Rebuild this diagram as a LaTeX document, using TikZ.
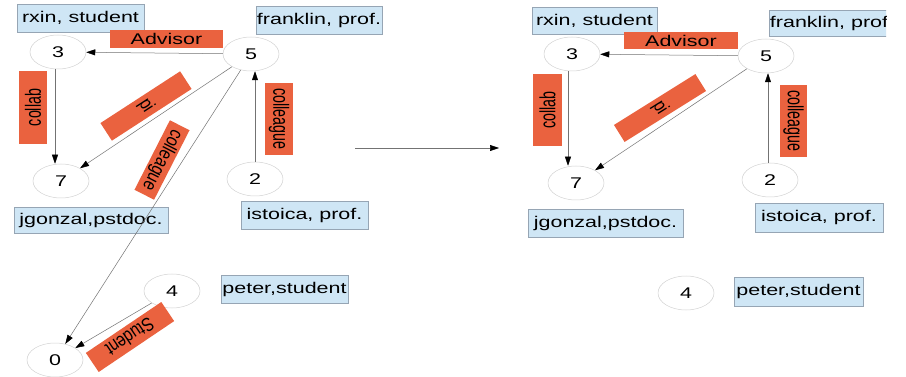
\documentclass[tikz,border=0pt]{standalone}
\usepackage{fontspec}
\setmainfont{Liberation Sans}
\usetikzlibrary{shapes.geometric,arrows.meta,calc}
\definecolor{labred}{RGB}{234,98,63}
\definecolor{infoblue}{RGB}{207,230,245}
\definecolor{infoedge}{RGB}{150,165,180}
\newcommand{\hs}[1]{\scalebox{1.385}[1]{#1}}
\newcommand{\vs}[1]{\scalebox{0.92}[1.42]{#1}}
\newcommand{\ds}[1]{\scalebox{1.0}[1.25]{#1}}
\tikzset{
  vert/.style={ellipse, draw=gray!35, line width=0.5pt, minimum width=56pt, minimum height=34pt, inner sep=0pt},
  info/.style={rectangle, draw=infoedge, line width=0.5pt, fill=infoblue, inner sep=0pt},
  lab/.style={rectangle, fill=labred, inner sep=0pt},
  rel/.style={draw=gray!90!black, line width=0.5pt, -{Triangle[length=9pt,width=6pt,color=black]}}
}
\begin{document}
\begin{tikzpicture}[x=1pt,y=-1pt,font=\fontsize{15.5}{18}\selectfont]
\path[use as bounding box, fill=white] (0,0) rectangle (906,377);

% ---------- left graph ----------
\node[vert] (v3L) at (58,52) {\hs{3}};
\node[vert] (v5L) at (251,54) {\hs{5}};
\node[vert] (v7L) at (61,181) {\hs{7}};
\node[vert] (v2L) at (255,179) {\hs{2}};
\node[vert] (v4L) at (172,291) {\hs{4}};
\node[vert] (v0L) at (55,360) {\hs{0}};

\node[info, minimum width=127pt, minimum height=28pt] (rxL) at (80.5,18) {\hs{rxin, student}};
\node[info, minimum width=126pt, minimum height=28pt] (frL) at (319,20) {\hs{franklin, prof.}};
\node[info, minimum width=154pt, minimum height=26pt] (jgL) at (91,220) {\hs{jgonzal,pstdoc.}};
\node[info, minimum width=127pt, minimum height=28pt] (isL) at (304.5,215) {\hs{istoica, prof.}};
\node[info, minimum width=127pt, minimum height=28pt] (peL) at (284.5,289) {\hs{peter,student}};

\draw[rel] (v5L) -- (v3L);
\draw[rel] ([xshift=-3pt]v3L.south) -- ([xshift=-3pt]v3L.south |- v7L.north);
\draw[rel] (v5L) -- (v7L);
\draw[rel] (v2L.north) -- (v2L.north |- v5L.south);
\draw[rel] (v5L) -- (v0L);
\draw[rel] (v4L) -- (v0L);

\node[lab, minimum width=113pt, minimum height=18pt] (advL) at (166.5,39) {\hs{Advisor}};
\node[lab, minimum width=73pt, minimum height=28pt, rotate=90] (colL) at (33,107.5) {\vs{collab}};
\node[lab, minimum width=72pt, minimum height=28pt, rotate=-90] (cgL) at (279,119) {\vs{colleague}};
\node[lab, minimum width=21pt, minimum height=95pt, rotate=-57] (piL) at (146,106) {\ds{pi}};
\node[lab, minimum width=78pt, minimum height=22pt, rotate=-117] (cdL) at (162,160) {\ds{colleague}};
\node[lab, minimum width=91pt, minimum height=23pt, rotate=-146] (stL) at (130,337) {\ds{Student}};

% ---------- middle arrow ----------
\coordinate (ma) at (355,148);
\coordinate (mb) at (499,148);
\draw[rel] (ma) -- (mb);

% ---------- right graph ----------
\node[vert] (v3R) at (572,54) {\hs{3}};
\node[vert] (v5R) at (766,56) {\hs{5}};
\node[vert] (v7R) at (576,183) {\hs{7}};
\node[vert] (v2R) at (770,180) {\hs{2}};
\node[vert] (v4R) at (686,293) {\hs{4}};

\node[info, minimum width=125pt, minimum height=27pt] (rxR) at (594.5,20.5) {\hs{rxin, student}};
\begin{scope}
\clip (0,0) rectangle (886,377);
\node[info, minimum width=126pt, minimum height=26pt] (frR) at (832,23) {\hs{franklin, prof.}};
\end{scope}
\node[info, minimum width=155pt, minimum height=28pt] (jgR) at (605.5,223) {\hs{jgonzal,pstdoc.}};
\node[info, minimum width=128pt, minimum height=29pt] (isR) at (819,217.5) {\hs{istoica, prof.}};
\node[info, minimum width=129pt, minimum height=29pt] (peR) at (798.5,291.5) {\hs{peter,student}};

\draw[rel] (v5R) -- (v3R);
\draw[rel] ([xshift=-4pt]v3R.south) -- ([xshift=-4pt]v3R.south |- v7R.north);
\draw[rel] (v5R) -- (v7R);
\draw[rel] ([xshift=-2pt]v2R.north) -- ([xshift=-2pt]v2R.north |- v5R.south);

\node[lab, minimum width=114pt, minimum height=17pt] (advR) at (681,40.5) {\hs{Advisor}};
\node[lab, minimum width=72pt, minimum height=29pt, rotate=90] (colR) at (547.5,110) {\vs{collab}};
\node[lab, minimum width=72pt, minimum height=27pt, rotate=-90] (cgR) at (793.5,121) {\vs{colleague}};
\node[lab, minimum width=20pt, minimum height=96pt, rotate=-58] (piR) at (660,108) {\ds{pi}};
\end{tikzpicture}
\end{document}
